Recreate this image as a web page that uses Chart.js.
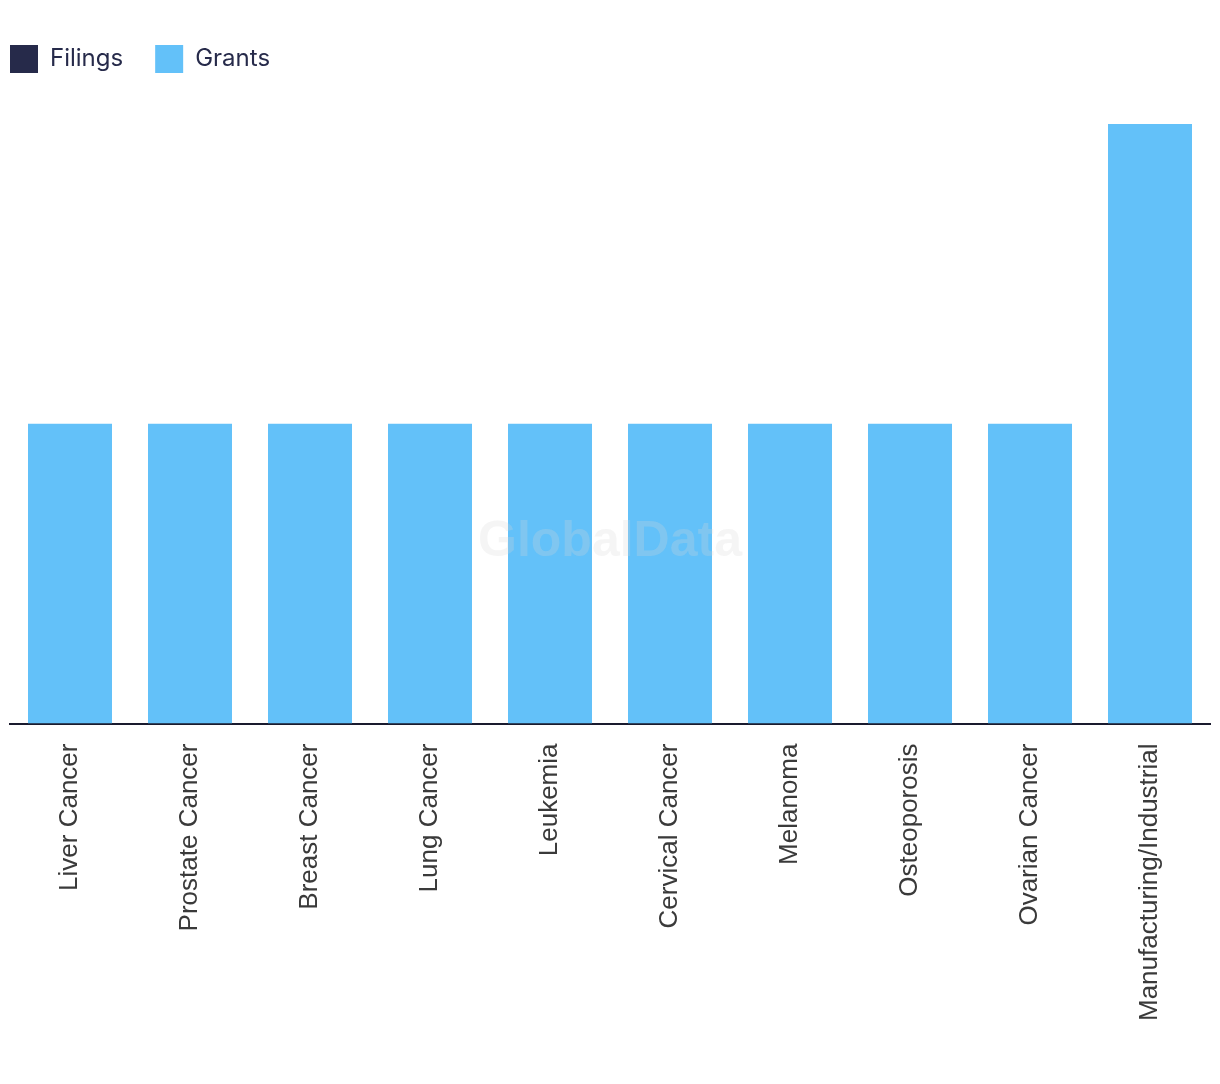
<!DOCTYPE html>
<html>
<head>
<meta charset="utf-8">
<script src="https://cdn.jsdelivr.net/npm/chart.js@4"></script>
<style>
  html, body { margin: 0; padding: 0; background: #fff; }
  #wrap { width: 1220px; height: 1084px; position: relative; }
</style>
</head>
<body>
<div id="wrap"><canvas id="chart"></canvas></div>
<script>
const categories = ["Liver Cancer","Prostate Cancer","Breast Cancer","Lung Cancer","Leukemia","Cervical Cancer","Melanoma","Osteoporosis","Ovarian Cancer","Manufacturing/Industrial"];
const filings = [0,0,0,0,0,0,0,0,0,0];
const grants = [1,1,1,1,1,1,1,1,1,2];

// faint watermark in the middle of the canvas
const watermark = {
  id: "watermark",
  afterDatasetsDraw(chart) {
    const ctx = chart.ctx;
    ctx.save();
    ctx.font = "bold 50px 'Liberation Sans', Arial, sans-serif";
    ctx.fillStyle = "rgba(215,215,215,0.25)";
    ctx.textAlign = "center";
    ctx.textBaseline = "middle";
    ctx.fillText("GlobalData", chart.width / 2, chart.height / 2);
    ctx.restore();
  }
};

// extra gap under the legend
const legendGap = {
  id: "legendGap",
  beforeInit(chart) {
    const fit = chart.legend.fit;
    chart.legend.fit = function () {
      fit.call(this);
      this.height += 41;
    };
  }
};

new Chart(document.getElementById("chart"), {
  type: "bar",
  data: {
    labels: categories,
    datasets: [
      { label: "Filings", data: filings, backgroundColor: "#262a4a" },
      { label: "Grants", data: grants, backgroundColor: "#63c1f9" }
    ]
  },
  options: {
    responsive: true,
    maintainAspectRatio: false,
    animation: false,
    // left padding is negative so the legend lines up with the axis; the hidden y axis gives the room back
    layout: { padding: { left: -22, right: 10, top: 13, bottom: 43 } },
    datasets: { bar: { categoryPercentage: 0.7, barPercentage: 1 } },
    plugins: {
      legend: {
        position: "top",
        align: "start",
        labels: {
          boxWidth: 28,
          boxHeight: 28,
          padding: 32,
          color: "#262a4a",
          font: { family: "Inter, 'Noto Sans', sans-serif", size: 24 }
        }
      },
      tooltip: { enabled: false }
    },
    scales: {
      x: {
        stacked: true,
        grid: { display: false, drawTicks: false },
        border: { display: true, color: "#1a1b2e", width: 2 },
        ticks: {
          maxRotation: 90,
          minRotation: 90,
          padding: 20,
          color: "#3a3a3a",
          font: { family: "'Liberation Sans', Arial, sans-serif", size: 26 }
        }
      },
      y: {
        stacked: true,
        min: 0,
        max: 2,
        grid: { display: false, drawTicks: false },
        border: { display: false },
        ticks: { display: false },
        afterFit(scale) { scale.width = 32; }
      }
    }
  },
  plugins: [watermark, legendGap]
});
</script>
</body>
</html>
